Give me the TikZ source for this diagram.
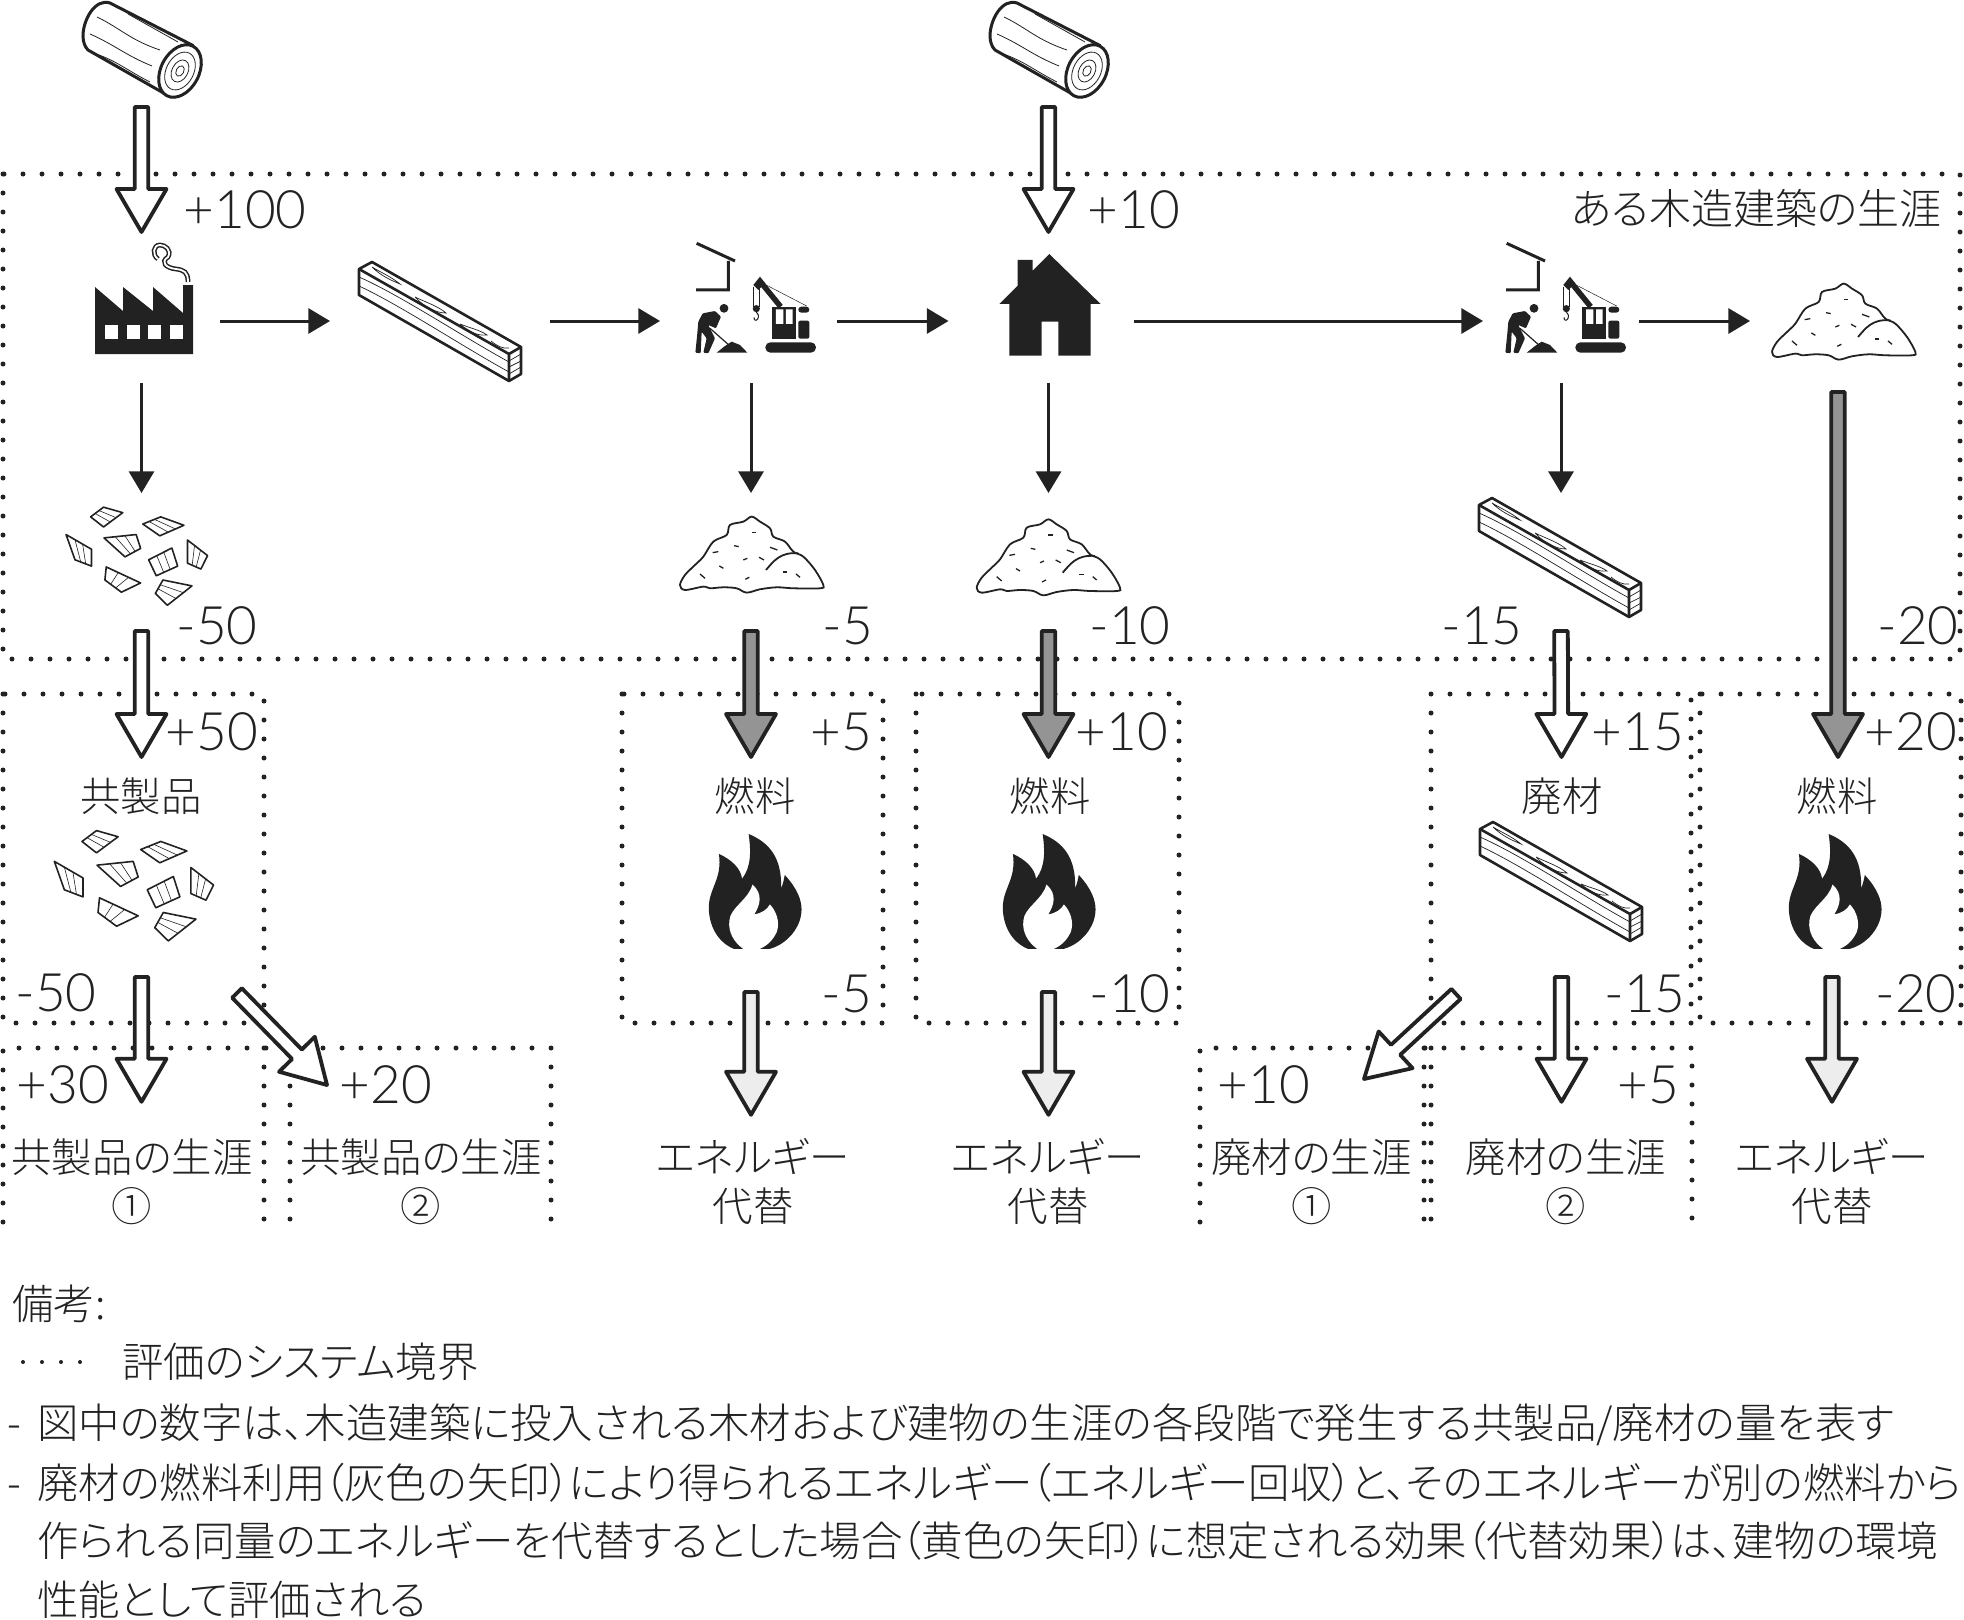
\documentclass[tikz,border=0pt]{standalone}
\usepackage{fontspec}
\usepackage{tikz}
\usetikzlibrary{arrows.meta, calc}
\IfFontExistsTF{Noto Sans CJK JP Light}
  {\newfontfamily\jpfont[RawFeature=+palt]{Noto Sans CJK JP Light}}
  {\newfontfamily\jpfont[RawFeature=+palt]{Noto Sans CJK JP}}
\IfFontExistsTF{Lato Light}
  {\newfontfamily\numfont{Lato Light}}
  {\newfontfamily\numfont{Lato}}
\definecolor{nInk}{RGB}{34,34,34}
\definecolor{nGray}{RGB}{148,148,148}
\definecolor{nLight}{RGB}{237,237,237}
\newcommand{\tgt}{\hspace{-1.7pt}}
\tikzstyle{bound} = [line width=5pt, line cap=round, dash pattern=on 0pt off 19pt, draw=nInk]
\tikzstyle{arrow} = [-{Triangle[length=21.6pt,width=25pt]}, line width=3pt, draw=nInk]
\tikzstyle{fat}   = [draw=nInk, line width=3.8pt, line join=round, to path={
  ($(\tikztostart)!6.8pt!90:(\tikztotarget)$)
  -- ($(\tikztotarget)!43pt!(\tikztostart)!6.8pt!90:(\tikztotarget)$)
  -- ($(\tikztotarget)!43pt!(\tikztostart)!25pt!90:(\tikztotarget)$)
  -- (\tikztotarget)
  -- ($(\tikztotarget)!43pt!(\tikztostart)!25pt!-90:(\tikztotarget)$)
  -- ($(\tikztotarget)!43pt!(\tikztostart)!6.8pt!-90:(\tikztotarget)$)
  -- ($(\tikztostart)!6.8pt!-90:(\tikztotarget)$) -- cycle}]
\tikzstyle{icon}  = [inner sep=0pt, outer sep=0pt]
\tikzstyle{stage} = [icon, minimum height=151pt]
\tikzstyle{waste} = [icon, minimum height=138pt]
\tikzstyle{prod}  = [icon, minimum height=220pt]
\tikzstyle{burn}  = [icon, minimum height=235pt]
\tikzstyle{num}   = [inner sep=0pt, text=nInk, font=\numfont\fontsize{53}{53}\selectfont]
\tikzstyle{jp}    = [inner sep=0pt, text=nInk, font=\jpfont\fontsize{40.4}{49}\selectfont]
\tikzstyle{life}  = [jp, align=center, minimum height=159pt]
\tikzstyle{subst} = [jp, align=center, minimum height=133pt]
\tikzstyle{note}  = [inner sep=0pt, anchor=west, text=nInk, font=\jpfont\fontsize{41.4}{49}\selectfont]
\tikzset{
  logpic/.pic={
    \filldraw [draw=nInk, fill=white, line width=3pt] (192,45) -- (110,3)
      .. controls (95,-2) and (83,20) .. (83,36) .. controls (83,42) and (85,47) .. (88,50) -- (167,95) -- cycle;
    \draw [nInk, line width=.8pt] (97,17) .. controls (120,28) and (130,40) .. (160,50)
      (90,34) .. controls (115,45) and (125,55) .. (152,66)
      (96,54) .. controls (115,60) and (130,72) .. (150,82)
      (128,14) -- (178,42);
    \filldraw [draw=nInk, fill=white, line width=3pt, rotate around={-28:(180,71)}] (180,71) ellipse [x radius=19pt, y radius=28pt];
    \foreach \r in {.72,.42,.2}
      \draw [nInk, line width=.8pt, rotate around={-28:(180,71)}] (180,71) ellipse [x radius=\r*19pt, y radius=\r*28pt];
  },
  factorypic/.pic={
    \fill [nInk] (95,354) -- (95,287) -- (123,311) -- (123,287) -- (153,311) -- (153,287) -- (183,313) -- (183,285) -- (193,285) -- (193,354) -- cycle;
    \foreach \x in {105,127,148,170}
      \fill [white] (\x,325) rectangle ++(13,14);
    \draw [nInk, line width=1.5pt, double=white, double distance=1.8pt] (188,282) .. controls (188,272) and (184,270) .. (176,269)
      .. controls (166,268) and (160,262) .. (168,257) .. controls (172,250) and (165,245) .. (160,245) .. controls (153,245) and (152,255) .. (158,259);
  },
  lumberpic/.pic={
    \filldraw [draw=nInk, fill=white, line width=2.6pt, line join=round] (359,269) -- (372,262) -- (521,347) -- (521,374) -- (509,381) -- (359,295) -- cycle;
    \draw [nInk, line width=2.6pt] (359,269) -- (509,354) -- (521,347) (509,354) -- (509,381);
    \draw [nInk, line width=.7pt] (359,277) .. controls (400,295) and (460,335) .. (509,362)
      (359,286) .. controls (400,305) and (460,345) .. (509,372)
      (509,361) -- (521,354) (509,367) -- (521,361) (509,374) -- (521,367)
      (372,267) .. controls (380,275) and (390,280) .. (400,284) .. controls (390,276) and (380,272) .. (372,267)
      (415,297) .. controls (425,308) and (437,313) .. (446,313) .. controls (438,306) and (425,302) .. (415,297)
      (460,324) .. controls (468,332) and (478,336) .. (487,335) .. controls (480,330) and (470,328) .. (460,324)
      (491,341) .. controls (497,346) and (503,349) .. (509,348);
  },
  builderpic/.pic={
    \begin{scope}[x=.3333pt, y=-.3333pt]
      \draw [nInk, line width=3pt] (110,130) -- (225,183) (205,183) -- (205,270) -- (108,270);
      \fill [nInk] (192,325) circle (4.4pt);
      \fill [nInk, rounded corners=1pt] (115,365) -- (128,340) -- (165,333) -- (183,350) -- (168,385) -- (145,375) -- (165,415) -- (145,460) -- (130,458) -- (140,415) -- (125,395) -- (122,460) -- (106,458) -- (112,400) -- cycle;
      \draw [nInk, line width=1.2pt] (150,385) -- (210,438);
      \fill [nInk] (170,458) -- (195,438) -- (215,425) -- (240,435) -- (262,458) -- cycle;
      \fill [nInk, rounded corners=5pt] (316,427) rectangle (468,458);
      \fill [nInk] (336,320) rectangle (408,416);
      \fill [white] (348,328) rectangle (370,372) (378,328) rectangle (398,372);
      \fill [nInk, rounded corners=2pt] (415,362) rectangle (448,416);
      \fill [nInk, rounded corners=3pt] (415,320) rectangle (448,338);
      \draw [nInk, line width=5.5pt] (305,250) -- (362,320);
      \fill [nInk] (280,255) -- (300,230) -- (316,250) -- (295,270) -- cycle;
      \draw [nInk, line width=.5pt] (305,248) -- (440,318);
      \draw [nInk, line width=1pt] (280,262) -- (280,320) (299,262) -- (299,320);
      \fill [nInk] (289,326) circle (3.6pt);
      \draw [nInk, line width=1pt] (289,336) -- (295,345) .. controls (297,365) and (280,365) .. (282,352);
    \end{scope}
  },
  housepic/.pic={
    \begin{scope}[x=.3333pt, y=-.3333pt]
      \fill [nInk] (1018,312) -- (1073,257) -- (1073,180) -- (1118,180) -- (1118,212) -- (1168,162) -- (1322,312) -- (1292,312) -- (1292,467) -- (1195,467) -- (1195,365) -- (1145,365) -- (1145,467) -- (1048,467) -- (1048,312) -- cycle;
    \end{scope}
  },
  pilepic/.pic={
    \begin{scope}[x=.3333pt, y=-.3333pt]
      \draw [nInk, line width=1.8pt, fill=white] plot [smooth cycle, tension=.55] coordinates {(60,1155) (75,1125) (105,1095) (130,1070) (160,1025) (200,1005) (210,975) (250,965) (275,950) (300,965) (330,985) (340,1010) (375,1025) (400,1055) (430,1070) (465,1110) (490,1155) (480,1165) (400,1165) (350,1162) (300,1168) (260,1178) (230,1165) (190,1162) (150,1165) (130,1160) (75,1170)};
      \draw [nInk, line width=1.8pt] (318,1110) .. controls (340,1085) and (360,1055) .. (415,1060);
      \foreach \xa/\ya/\xb/\yb in {275/997/288/997, 222/1037/236/1040, 330/1042/352/1050, 158/1058/175/1055, 250/1080/262/1075, 297/1072/312/1080, 178/1098/190/1105, 120/1122/135/1135, 256/1138/268/1132, 368/1116/382/1116, 408/1122/420/1132}
        \draw [nInk, line width=1.3pt] (\xa,\ya) -- (\xb,\yb);
    \end{scope}
  },
  chipspic/.pic={
    \begin{scope}[x=.4464pt, y=-.4209pt]
      \foreach \xa/\ya/\xb/\yb/\xc/\yc/\xd/\yd in {203/1228/232/1205/275/1218/232/1252, 320/1245/360/1228/412/1248/358/1273, 148/1270/205/1305/205/1345/168/1330, 233/1278/305/1270/315/1303/280/1323, 333/1330/385/1302/398/1345/350/1368, 420/1283/465/1320/450/1352/420/1338, 238/1347/315/1385/272/1407/235/1378, 348/1410/365/1378/430/1392/375/1438}{
        \draw [nInk, line width=1.6pt, line join=round] (\xa,\ya) -- (\xb,\yb) -- (\xc,\yc) -- (\xd,\yd) -- cycle;
        \draw [nInk, line width=.6pt] ($(\xa,\ya)!.35!(\xb,\yb)$) -- ($(\xd,\yd)!.35!(\xc,\yc)$)
          ($(\xa,\ya)!.65!(\xb,\yb)$) -- ($(\xd,\yd)!.65!(\xc,\yc)$);
      }
    \end{scope}
  },
  flamepic/.pic={
    \begin{scope}[x=.3724pt, y=-.3827pt, shift={(-1222,-508)}]
      \fill [nInk] (1165,808) .. controls (1120,790) and (1098,745) .. (1098,700) .. controls (1098,650) and (1135,625) .. (1125,560) .. controls (1160,575) and (1185,600) .. (1187,625) .. controls (1215,590) and (1210,545) .. (1205,508) .. controls (1260,530) and (1295,570) .. (1292,650) .. controls (1297,640) and (1300,625) .. (1302,615) .. controls (1335,650) and (1347,680) .. (1347,705) .. controls (1347,750) and (1310,795) .. (1262,808) -- cycle;
      \fill [white] (1190,808) .. controls (1165,790) and (1150,765) .. (1153,735) .. controls (1155,700) and (1205,680) .. (1215,640) .. controls (1245,665) and (1235,695) .. (1220,718) .. controls (1240,715) and (1255,705) .. (1262,692) .. controls (1280,710) and (1290,740) .. (1280,765) .. controls (1270,785) and (1255,800) .. (1235,808) -- cycle;
    \end{scope}
  }
}
\begin{document}
\begin{tikzpicture}[x=1pt, y=-1pt]
  \useasboundingbox (0,0) rectangle (1964,1619);

  \draw [bound] (3,174) rectangle (1960,659);
  \draw [bound] (3,694)    rectangle (264,1023);
  \draw [bound] (622,694)  rectangle (883,1023);
  \draw [bound] (916,694)  rectangle (1179,1023);
  \draw [bound] (1431,694) rectangle (1691,1023);
  \draw [bound] (1700,694) rectangle (1961,1023);
  \draw [bound] (3,1222) -- (3,1048) -- (551,1048) -- (551,1222);
  \draw [bound] (264,1048) -- (264,1222);
  \draw [bound] (290,1048) -- (290,1222);
  \draw [bound] (1200,1222) -- (1200,1048) -- (1692,1048) -- (1692,1222);
  \draw [bound] (1424,1048) -- (1424,1222);
  \draw [bound] (1431,1048) -- (1431,1222);

  \coordinate (Row) at (0,321);
  \coordinate (DgA) at (237,993);
  \coordinate (DgB) at (327,1085);
  \coordinate (DgC) at (1456,994);
  \coordinate (DgD) at (1364,1079);

  \node(LgA) [icon, minimum height=114pt, minimum width=120pt] at (141.5,50) {};
  \node(LgB) [icon, minimum height=114pt, minimum width=120pt] at (1048.5,50) {};

  \node(Fac) [stage, minimum width=157pt] at (141.5,307.5) {};
  \node(BmA) [stage, minimum width=220pt] at (440,307.5) {};
  \node(BdA) [stage, minimum width=182pt] at (751,307.5) {};
  \node(Hs)  [stage, minimum width=200pt] at (1048.5,307.5) {};
  \node(BdB) [stage, minimum width=156pt] at (1561,307.5) {};
  \node(SdC) [icon, minimum width=176pt, minimum height=142pt] at (1838,321) {};

  \node(ChA) [waste, minimum width=140pt] at (141.5,562) {};
  \node(SdA) [waste, minimum width=140pt] at (751,562) {};
  \node(SdB) [waste, minimum width=140pt] at (1048.5,562) {};
  \node(BmB) [waste, minimum width=164pt] at (1561,562) {};

  \node(ChB) [prod, minimum width=160pt] at (141.5,867) {};
  \node(FlA) [burn, minimum width=100pt] at (751,874.5) {};
  \node(FlB) [burn, minimum width=100pt] at (1048.5,874.5) {};
  \node(BmC) [prod, minimum width=164pt] at (1561.5,867) {};
  \node(FlC) [prod, minimum width=100pt] at (1838,867) {};

  \node(CoA) [life]  at (132,1181.5)  {共製品の生涯\\①};
  \node(CoB) [life]  at (421,1181.5)  {共製品の生涯\\②};
  \node(EnA) [subst] at (753,1181.5)  {エネルギー\\代替};
  \node(EnB) [subst] at (1048,1181.5) {エネルギー\\代替};
  \node(LeA) [life]  at (1311.5,1181.5) {廃材の生涯\\①};
  \node(LeB) [life]  at (1566,1181.5) {廃材の生涯\\②};
  \node(EnC) [life]  at (1832,1181.5) {エネルギー\\代替};

  \pic at (0,0)      {logpic};
  \pic at (907,0)    {logpic};
  \pic at (0,0)      {factorypic};
  \pic at (0,0)      {lumberpic};
  \pic at (1120,236) {lumberpic};
  \pic at (1121,560) {lumberpic};
  \pic at (660,200)  {builderpic};
  \pic at (1470,200) {builderpic};
  \pic at (660,200)  {housepic};
  \pic at (660,200)  {pilepic};
  \pic at (956.7,202.7) {pilepic};
  \pic at (1752,-33) {pilepic};
  \pic at (0,0)      {chipspic};
  \pic [scale=1.125] at (-20,260) {chipspic};
  \pic at (755,834)  {flamepic};
  \pic at (1049,834) {flamepic};
  \pic at (1835,834) {flamepic};

  \draw [arrow] (Fac.east |- Row) -- (BmA.west |- Row);
  \draw [arrow] (BmA.east |- Row) -- (BdA.west |- Row);
  \draw [arrow] ([xshift=-5pt]BdA.east |- Row) -- (Hs.west |- Row);
  \draw [arrow] ([xshift=-15pt]Hs.east |- Row) -- (BdB.west |- Row);
  \draw [arrow] (BdB.east |- Row) -- (SdC.west |- Row);
  \draw [arrow] (Fac.south) -- (ChA.north);
  \draw [arrow] (BdA.south) -- (SdA.north);
  \draw [arrow] (Hs.south)  -- (SdB.north);
  \draw [arrow] (BdB.south) -- (BmB.north);

  \draw [fat, fill=white] (LgA.south) to (Fac.north);
  \draw [fat, fill=white] (LgB.south) to (Hs.north);
  \draw [fat, fill=white] (ChA.south) to (ChB.north);
  \draw [fat, fill=nGray] (SdA.south) to (FlA.north);
  \draw [fat, fill=nGray] (SdB.south) to (FlB.north);
  \draw [fat, fill=white] (BmB.south) to (BmC.north);
  \draw [fat, fill=nGray] (SdC.south) to (FlC.north);
  \draw [fat, fill=white] (ChB.south) to (ChB.south |- CoA.north);
  \draw [fat, fill=white] (DgA) to (DgB);
  \draw [fat, fill=nLight] (FlA.south) to (FlA.south |- EnA.north);
  \draw [fat, fill=nLight] (FlB.south) to (FlB.south |- EnB.north);
  \draw [fat, fill=white] (DgC) to (DgD);
  \draw [fat, fill=white] (BmC.south) to (BmC.south |- LeB.north);
  \draw [fat, fill=nLight] (EnC.north |- FlC.south) to (EnC.north);

  \node(NaA) [num] at (245,210)  {+100};
  \node(NaB) [num] at (217,626)  {-50};
  \node(NaC) [num] at (212,732)  {+50};
  \node(NaD) [num] at (56,993)   {-50};
  \node(NaE) [num] at (63,1085)  {+30};
  \node(NaF) [num] at (386,1085) {+20};
  \node(NbA) [num] at (848,626)  {-5};
  \node(NbB) [num] at (841,732)  {+5};
  \node(NbC) [num] at (847,994)  {-5};
  \node(NcA) [num] at (1134,210) {+10};
  \node(NcB) [num] at (1130,626) {-10};
  \node(NcC) [num] at (1122,732) {+10};
  \node(NcD) [num] at (1130,994) {-10};
  \node(NdA) [num] at (1482,626) {-15};
  \node(NdB) [num] at (1638,732) {+15};
  \node(NdC) [num] at (1645,994) {-15};
  \node(NdD) [num] at (1648,1085) {+5};
  \node(NdE) [num] at (1264,1085) {+10};
  \node(NeA) [num] at (1918,626) {-20};
  \node(NeB) [num] at (1911,732) {+20};
  \node(NeC) [num] at (1916,994) {-20};

  \node(Ttl) [jp, anchor=east, font=\jpfont\fontsize{42}{49}\selectfont] at (1942,208) {ある木造建築の生涯};
  \node(TxA) [jp] at (141,796)  {共製品};
  \node(TxB) [jp] at (755,796)  {燃料};
  \node(TxC) [jp] at (1050,796) {燃料};
  \node(TxD) [jp] at (1562,796) {廃材};
  \node(TxE) [jp] at (1837,796) {燃料};

  \coordinate (KyA) at (23,1362);
  \coordinate (KyB) at (81,1362);
  \draw [bound, line width=4pt] (KyA) -- (KyB);
  \node(NtA) [note] at (12,1304)  {備考:};
  \node(NtB) [note] at (122,1362) {評価のシステム境界};
  \node(NtC) [note] at (7,1425)   {\makebox[30pt][l]{-}図中の数字は、木造建築に投入される木材および建物の生涯の各段階で発生する共製品/廃材の量を表す};
  \node(NtD) [note] at (7,1483)   {\makebox[30pt][l]{-}廃材の燃料利用\tgt（灰色の矢印）\tgt により得られるエネルギー\tgt（エネルギー回収）\tgt と、そのエネルギーが別の燃料から};
  \node(NtE) [note] at (37,1541)  {作られる同量のエネルギーを代替するとした場合\tgt（黄色の矢印）\tgt に想定される効果\tgt（代替効果）\tgt は、建物の環境};
  \node(NtF) [note] at (37,1600)  {性能として評価される};
\end{tikzpicture}
\end{document}
